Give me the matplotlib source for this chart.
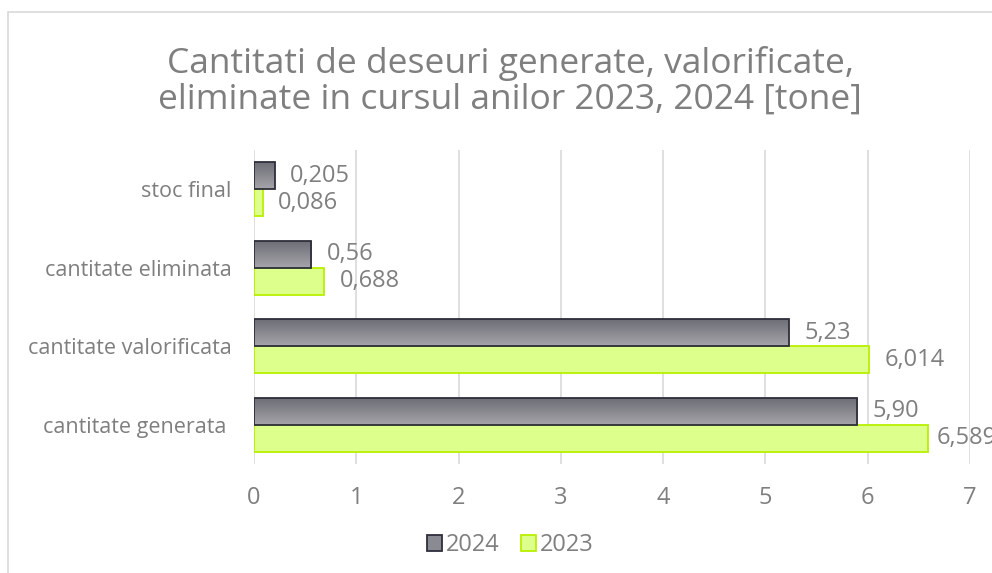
import matplotlib
matplotlib.use("Agg")
import matplotlib.pyplot as plt
import numpy as np
from matplotlib.patches import Rectangle, Patch
from matplotlib.colors import LinearSegmentedColormap

categories = ["cantitate generata ", "cantitate valorificata", "cantitate eliminata", "stoc final"]
values_2024 = [5.90, 5.23, 0.56, 0.205]
values_2023 = [6.589, 6.014, 0.688, 0.086]
labels_2024 = ["5,90", "5,23", "0,56", "0,205"]
labels_2023 = ["6,589", "6,014", "0,688", "0,086"]
series_names = ["2024", "2023"]
xticks = [0, 1, 2, 3, 4, 5, 6, 7]

plt.rcParams['font.family'] = ['Open Sans', 'DejaVu Sans']
txt = "#7f7f7f"

fig = plt.figure(figsize=(9.92, 5.73), dpi=100)
fig.patches.append(Rectangle((8/992, -0.05), 1.2, 1 - 12/573 + 0.05, transform=fig.transFigure,
                             fill=False, edgecolor="#d9d9d9", linewidth=1.2))
ax = fig.add_axes([254/992, 1 - 464/573, (970 - 254)/992, (464 - 150)/573])

y = np.arange(len(categories))
h = 0.346
gray_cmap = LinearSegmentedColormap.from_list("g", ["#a4a4aa", "#6c6c74"])

bars24 = ax.barh(y + h/2, values_2024, height=h, facecolor="#8a8a92", edgecolor="#2e2e3c", linewidth=1.3, zorder=3)
for b in bars24:
    x0, y0 = b.get_x(), b.get_y()
    w, hh = b.get_width(), b.get_height()
    grad = np.linspace(0, 1, 50).reshape(-1, 1)
    im = ax.imshow(grad, cmap=gray_cmap, aspect="auto", extent=(x0, x0 + w, y0 + hh, y0),
                   origin="upper", zorder=3.1)
    im.set_clip_path(b)
    b.set_zorder(3.2)
    b.set_facecolor("none")

bars23 = ax.barh(y - h/2, values_2023, height=h, facecolor="#ddff8c", edgecolor="#b8f000", linewidth=1.3, zorder=3)

for v, lab, yy in zip(values_2024, labels_2024, y + h/2):
    ax.annotate(lab, (v, yy), xytext=(11, 0), textcoords="offset points", va="center", ha="left",
                fontsize=17, color=txt)
for v, lab, yy in zip(values_2023, labels_2023, y - h/2):
    off = 11 if v < 6.5 else 6
    ax.annotate(lab, (v, yy), xytext=(off, 0), textcoords="offset points", va="center", ha="left",
                fontsize=17, color=txt, annotation_clip=False)

ax.set_xlim(0, 7)
ax.set_ylim(-0.5, 3.5)
ax.set_xticks(xticks)
ax.set_xticklabels([str(t) for t in xticks], fontsize=17, color=txt)
ax.set_yticks(y)
ax.set_yticklabels(categories, fontsize=15.5, color=txt)
ax.tick_params(axis="y", length=0, pad=16)
ax.tick_params(axis="x", length=0, pad=16)
ax.grid(axis="x", color="#d9d9d9", linewidth=1.2, zorder=0)
for s in ax.spines.values():
    s.set_visible(False)
ax.set_axisbelow(True)

fig.text(510/992, 1 - 81/573, "Cantitati de deseuri generate, valorificate,\neliminate in cursul anilor 2023, 2024 [tone]",
         ha="center", va="center", fontsize=25.5, color=txt, linespacing=1.05)

handles = [Patch(facecolor="#8a8a92", edgecolor="#2e2e3c", linewidth=1.3),
           Patch(facecolor="#ddff8c", edgecolor="#b8f000", linewidth=1.3)]
fig.legend(handles, series_names, loc="center", bbox_to_anchor=(510/992, 1 - 545/573), ncol=2, frameon=False,
           fontsize=17, labelcolor=txt, handlelength=0.65, handleheight=0.65, handletextpad=0.15, columnspacing=0.9)

fig.savefig("out.png", dpi=100)
